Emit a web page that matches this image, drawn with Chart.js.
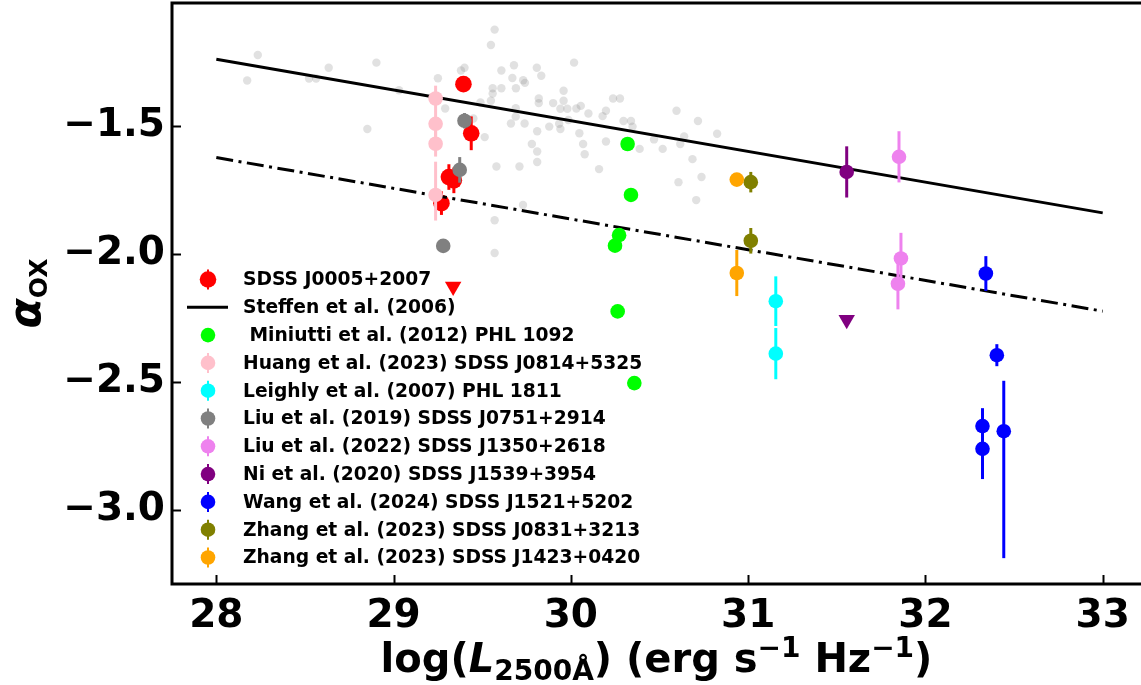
<!DOCTYPE html>
<html>
<head>
<meta charset="utf-8">
<script src="https://cdn.jsdelivr.net/npm/chart.js@4"></script>
<style>
  html, body { margin: 0; padding: 0; background: #fff; overflow: hidden; }
  #wrap { width: 1141px; height: 685px; overflow: hidden; }
</style>
</head>
<body>
<div id="wrap"><canvas id="chart" width="1150" height="685"></canvas></div>
<script>
'use strict';

// ---------------------------------------------------------------------------
// Data
// ---------------------------------------------------------------------------

const xTicks = [28, 29, 30, 31, 32, 33];
const yTicks = [-3.0, -2.5, -2.0, -1.5];

// Steffen et al. (2006) relation and the same relation shifted by -0.384
const relX     = [28, 33];
const steffenY = [-1.24, -1.84];
const weakY    = [-1.624, -2.224];

// comparison quasar sample (grey cloud)
const sampleX = [
  28.234, 28.174, 28.523, 28.563, 28.634, 28.903, 28.852, 29.031, 29.250, 29.291,
  29.380, 29.400, 29.450, 29.514, 29.490, 29.549, 29.549, 29.570, 29.559, 29.559,
  29.608, 29.608, 29.679, 29.670, 29.731, 29.741, 29.690, 29.808, 29.833, 29.819,
  29.819, 29.900, 29.959, 29.959, 29.941, 29.980, 30.031, 30.056, 29.662, 29.739,
  29.689, 29.689, 29.810, 29.878, 29.934, 29.941, 29.986, 30.048, 29.780, 29.810,
  29.810, 29.710, 29.580, 29.730, 29.570, 29.570, 30.018, 30.099, 30.198, 30.179,
  30.238, 30.277, 30.297, 30.339, 30.348, 30.596, 30.717, 30.639, 30.825, 30.069,
  30.198, 30.388, 30.518, 30.469, 30.617, 30.078, 30.159, 30.686, 30.607, 30.737,
  30.707,
];
const sampleY = [
  -1.223, -1.323, -1.315, -1.315, -1.273, -1.253, -1.512, -1.361, -1.314, -1.432,
  -1.284, -1.273, -1.471, -1.544, -1.409, -1.402, -1.184, -1.124, -1.353, -1.374,
  -1.353, -1.284, -1.263, -1.313, -1.322, -1.332, -1.353, -1.273, -1.304, -1.393,
  -1.411, -1.411, -1.363, -1.402, -1.433, -1.433, -1.432, -1.422, -1.491, -1.491,
  -1.431, -1.464, -1.521, -1.503, -1.492, -1.512, -1.477, -1.529, -1.571, -1.600,
  -1.641, -1.659, -1.659, -1.809, -1.869, -1.997, -1.253, -1.452, -1.441, -1.462,
  -1.393, -1.393, -1.481, -1.481, -1.503, -1.441, -1.481, -1.541, -1.531, -1.571,
  -1.561, -1.590, -1.590, -1.553, -1.571, -1.611, -1.669, -1.630, -1.720, -1.700,
  -1.790,
];

// SDSS J0005+2007
const j0005X  = [29.394, 29.438, 29.312, 29.340, 29.270];
const j0005Y  = [-1.337, -1.529, -1.700, -1.713, -1.802];
const j0005Lo = [0, 0.066, 0.05, 0.05, 0.046];
const j0005Hi = [0, 0.066, 0.05, 0.05, 0.046];
const j0005LimX = [29.336];
const j0005LimY = [-2.128];

// Miniutti et al. (2012) PHL 1092
const phl1092X = [30.320, 30.339, 30.272, 30.249, 30.264, 30.358];
const phl1092Y = [-1.571, -1.770, -1.927, -1.968, -2.225, -2.505];

// Huang et al. (2023) SDSS J0814+5325
const j0814X  = [29.237, 29.237, 29.237, 29.237];
const j0814Y  = [-1.393, -1.492, -1.570, -1.770];
const j0814Lo = [0.05, 0.05, 0.05, 0.10];
const j0814Hi = [0.05, 0.05, 0.05, 0.13];

// Leighly et al. (2007) PHL 1811
const phl1811X  = [31.156, 31.156];
const phl1811Y  = [-2.185, -2.390];
const phl1811Lo = [0.097, 0.10];
const phl1811Hi = [0.097, 0.10];

// Liu et al. (2019) SDSS J0751+2914
const j0751X  = [29.400, 29.373, 29.280];
const j0751Y  = [-1.480, -1.672, -1.969];
const j0751Lo = [0.03, 0.05, 0];
const j0751Hi = [0.03, 0.05, 0];

// Liu et al. (2022) SDSS J1350+2618
const j1350X  = [31.851, 31.862, 31.845];
const j1350Y  = [-1.621, -2.018, -2.117];
const j1350Lo = [0.10, 0.10, 0.10];
const j1350Hi = [0.10, 0.10, 0.10];

// Ni et al. (2020) SDSS J1539+3954
const j1539X  = [31.556];
const j1539Y  = [-1.680];
const j1539Lo = [0.10];
const j1539Hi = [0.10];
const j1539LimX = [31.556];
const j1539LimY = [-2.258];

// Wang et al. (2024) SDSS J1521+5202
const j1521X  = [32.341, 32.403, 32.322, 32.322, 32.442];
const j1521Y  = [-2.077, -2.396, -2.673, -2.762, -2.693];
const j1521Lo = [0.068, 0.043, 0.07, 0.118, 0.496];
const j1521Hi = [0.068, 0.043, 0.07, 0.118, 0.197];

// Zhang et al. (2023) SDSS J0831+3213
const j0831X  = [31.015, 31.015];
const j0831Y  = [-1.720, -1.949];
const j0831Lo = [0.04, 0.05];
const j0831Hi = [0.04, 0.05];

// Zhang et al. (2023) SDSS J1423+0420
const j1423X  = [30.936, 30.936];
const j1423Y  = [-1.710, -2.075];
const j1423Lo = [0, 0.09];
const j1423Hi = [0, 0.09];

// ---------------------------------------------------------------------------
// Dataset builders
// ---------------------------------------------------------------------------

const FONT = "'DejaVu Sans', sans-serif";
const pts = (xs, ys) => xs.map((x, i) => ({ x, y: ys[i] }));

function dots(label, color, xs, ys, lo, hi, r = 7.3) {
  return {
    label, legend: true,
    data: pts(xs, ys),
    errLo: lo, errHi: hi,
    pointStyle: 'circle', pointRadius: r,
    backgroundColor: color, borderColor: color, borderWidth: 0,
  };
}

function limits(color, xs, ys) {
  return {
    data: pts(xs, ys),
    pointStyle: 'triangle', rotation: 180, pointRadius: 9.5,
    backgroundColor: color, borderColor: color, borderWidth: 0,
  };
}

function relation(label, ys, dash) {
  return {
    type: 'line', label, legend: !!label,
    data: pts(relX, ys),
    showLine: true, pointRadius: 0,
    borderColor: '#000', borderWidth: 3, borderDash: dash,
    borderCapStyle: 'butt', fill: false,
  };
}

const datasets = [
  {
    data: pts(sampleX, sampleY),
    pointStyle: 'circle', pointRadius: 4.2,
    backgroundColor: 'rgba(128,128,128,0.24)', borderWidth: 0,
  },
  dots('SDSS J0005+2007', '#ff0000', j0005X, j0005Y, j0005Lo, j0005Hi, 8.3),
  limits('#ff0000', j0005LimX, j0005LimY),
  relation('Steffen et al. (2006)', steffenY, []),
  relation(null, weakY, [17, 5.5, 3, 5.5]),
  dots(' Miniutti et al. (2012) PHL 1092', '#00ff00', phl1092X, phl1092Y, null, null),
  dots('Huang et al. (2023) SDSS J0814+5325', '#ffc0cb', j0814X, j0814Y, j0814Lo, j0814Hi),
  dots('Leighly et al. (2007) PHL 1811', '#00ffff', phl1811X, phl1811Y, phl1811Lo, phl1811Hi),
  dots('Liu et al. (2019) SDSS J0751+2914', '#808080', j0751X, j0751Y, j0751Lo, j0751Hi),
  dots('Liu et al. (2022) SDSS J1350+2618', '#ee82ee', j1350X, j1350Y, j1350Lo, j1350Hi),
  dots('Ni et al. (2020) SDSS J1539+3954', '#800080', j1539X, j1539Y, j1539Lo, j1539Hi),
  limits('#800080', j1539LimX, j1539LimY),
  dots('Wang et al. (2024) SDSS J1521+5202', '#0000ff', j1521X, j1521Y, j1521Lo, j1521Hi),
  dots('Zhang et al. (2023) SDSS J0831+3213', '#808000', j0831X, j0831Y, j0831Lo, j0831Hi),
  dots('Zhang et al. (2023) SDSS J1423+0420', '#ffa500', j1423X, j1423Y, j1423Lo, j1423Hi),
];
// later datasets are painted on top
datasets.forEach((d, i) => { d.order = -i; });

// ---------------------------------------------------------------------------
// Plugins
// ---------------------------------------------------------------------------

// vertical error bars, painted just before each dataset's markers
const errorBars = {
  id: 'errorBars',
  beforeDatasetDraw(chart, args) {
    const ds = chart.data.datasets[args.index];
    if (!ds.errLo) return;
    const xs = chart.scales.x, ys = chart.scales.y, ctx = chart.ctx;
    ctx.save();
    ctx.strokeStyle = ds.backgroundColor;
    ctx.lineWidth = 3;
    ds.data.forEach((p, i) => {
      const lo = ds.errLo[i], hi = ds.errHi[i];
      if (!lo && !hi) return;
      const px = xs.getPixelForValue(p.x);
      ctx.beginPath();
      ctx.moveTo(px, ys.getPixelForValue(p.y - lo));
      ctx.lineTo(px, ys.getPixelForValue(p.y + hi));
      ctx.stroke();
    });
    ctx.restore();
  },
};

// box around the plot plus inward ticks
const frame = {
  id: 'frame',
  afterDatasetsDraw(chart) {
    const { ctx, chartArea: a } = chart;
    const xs = chart.scales.x, ys = chart.scales.y;
    ctx.save();
    ctx.strokeStyle = '#000';
    ctx.lineWidth = 2;
    xTicks.forEach(v => {
      const px = Math.round(xs.getPixelForValue(v)) + 0.5;
      ctx.beginPath(); ctx.moveTo(px, a.bottom); ctx.lineTo(px, a.bottom - 9); ctx.stroke();
    });
    yTicks.forEach(v => {
      const py = Math.round(ys.getPixelForValue(v)) + 0.5;
      ctx.beginPath(); ctx.moveTo(a.left, py); ctx.lineTo(a.left + 9, py); ctx.stroke();
    });
    ctx.lineWidth = 3;
    ctx.strokeRect(a.left, a.top, a.right - a.left, a.bottom - a.top);
    ctx.restore();
  },
};

// legend in the lower-left corner of the plot
const legendBox = {
  id: 'legendBox',
  afterDraw(chart) {
    const ctx = chart.ctx;
    const entries = chart.data.datasets.filter(d => d.legend);
    ctx.save();
    ctx.font = `bold 18.7px ${FONT}`;
    ctx.textBaseline = 'middle';
    ctx.fillStyle = '#000';
    entries.forEach((d, i) => {
      const y = 279.5 + i * 27.8;
      if (d.type === 'line') {
        ctx.strokeStyle = '#000';
        ctx.lineWidth = 3;
        ctx.beginPath(); ctx.moveTo(187, y); ctx.lineTo(228, y); ctx.stroke();
      } else {
        if (d.errLo) {
          ctx.strokeStyle = d.backgroundColor;
          ctx.lineWidth = 2;
          ctx.beginPath(); ctx.moveTo(208, y - 10); ctx.lineTo(208, y + 10); ctx.stroke();
        }
        ctx.fillStyle = d.backgroundColor;
        ctx.beginPath(); ctx.arc(208, y, d.pointRadius, 0, Math.PI * 2); ctx.fill();
      }
      ctx.fillStyle = '#000';
      ctx.fillText(d.label, 243, y + 1);
    });
    ctx.restore();
  },
};

// draws a row of text pieces (with sub/superscripts) centred on cx
function drawRuns(ctx, runs, cx, base) {
  let total = 0;
  runs.forEach(r => { ctx.font = r.font; r.w = ctx.measureText(r.text).width; total += r.w; });
  let x = cx - total / 2;
  ctx.textBaseline = 'alphabetic';
  ctx.textAlign = 'left';
  runs.forEach(r => {
    ctx.font = r.font;
    ctx.fillText(r.text, x, base + (r.dy || 0));
    x += r.w;
  });
}

const axisTitles = {
  id: 'axisTitles',
  afterDraw(chart) {
    const { ctx, chartArea: a } = chart;
    const big = `bold 40px ${FONT}`, bigIt = `bold italic 40px ${FONT}`, small = `bold 28px ${FONT}`;
    ctx.save();
    ctx.fillStyle = '#000';
    drawRuns(ctx, [
      { text: 'log(', font: big },
      { text: 'L', font: bigIt },
      { text: '2500Å', font: small, dy: 8 },
      { text: ') (erg s', font: big },
      { text: '\u22121', font: small, dy: -15 },
      { text: ' Hz', font: big },
      { text: '\u22121', font: small, dy: -15 },
      { text: ')', font: big },
    ], (a.left + 1141) / 2, 672);

    ctx.translate(40, (a.top + a.bottom) / 2);
    ctx.rotate(-Math.PI / 2);
    drawRuns(ctx, [
      { text: 'α', font: `bold italic 44px ${FONT}` },
      { text: 'OX', font: `bold 25px ${FONT}`, dy: 7 },
    ], 0, 0);
    ctx.restore();
  },
};

// ---------------------------------------------------------------------------
// Chart
// ---------------------------------------------------------------------------

const tickFont = { family: FONT, weight: 'bold', size: 39 };

// the axes get no extra room for overhanging tick labels
function noOverhang(s) {
  s.paddingLeft = 0; s.paddingRight = 0; s.paddingTop = 0; s.paddingBottom = 0;
}

new Chart(document.getElementById('chart').getContext('2d'), {
  type: 'scatter',
  data: { datasets },
  options: {
    responsive: false,
    animation: false,
    events: [],
    layout: { autoPadding: false, padding: { top: 3, right: 3, left: 0, bottom: 0 } },
    plugins: { legend: { display: false }, tooltip: { enabled: false } },
    scales: {
      x: {
        type: 'linear', min: 27.75, max: 33.25,
        afterBuildTicks: s => { s.ticks = xTicks.map(v => ({ value: v })); },
        afterFit: s => { s.height = 101; noOverhang(s); },
        grid: { display: false, drawTicks: false },
        border: { display: false },
        ticks: { color: '#000', font: tickFont, padding: 9, maxRotation: 0, callback: v => String(v) },
      },
      y: {
        type: 'linear', min: -3.29, max: -1.02,
        afterBuildTicks: s => { s.ticks = yTicks.map(v => ({ value: v })); },
        afterFit: s => { s.width = 172; noOverhang(s); },
        grid: { display: false, drawTicks: false },
        border: { display: false },
        ticks: { color: '#000', font: tickFont, padding: 7, callback: v => v.toFixed(1).replace('-', '\u2212') },
      },
    },
  },
  plugins: [errorBars, frame, legendBox, axisTitles],
});
</script>
</body>
</html>
